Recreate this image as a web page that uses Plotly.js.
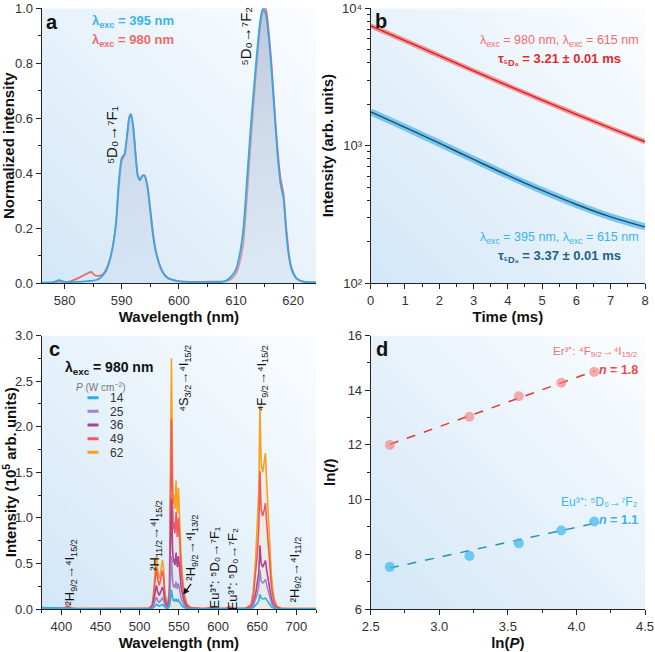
<!DOCTYPE html>
<html><head><meta charset="utf-8">
<script src="https://cdn.plot.ly/plotly-3.0.1.min.js"></script>
<style>html,body{margin:0;padding:0;background:#fff}#chart{width:655px;height:652px}</style>
</head><body><div id="chart"></div>
<script>
// ---------- Panel a : normalized emission spectra ----------
const aWavelength = [576,578,579,580,581,582,583,584,584.7,585.3,586,586.7,587.3,588,588.5,589,589.5,590,590.5,591,591.3,591.6,592,592.4,592.8,593.2,593.6,594,594.5,595,595.5,596,597,598,600,603,606,608,609,610,610.7,611.3,612,612.7,613.5,614.2,614.7,615.2,615.7,616.2,616.8,617.3,617.8,618.3,618.8,619.3,619.8,620.5,621.2,622,624];
const aExc395 = [0.001,0.003,0.01,0.004,0.003,0.004,0.005,0.007,0.008,0.01,0.015,0.028,0.045,0.09,0.14,0.22,0.37,0.455,0.47,0.55,0.6,0.615,0.57,0.47,0.39,0.375,0.39,0.39,0.35,0.26,0.17,0.11,0.045,0.018,0.006,0.003,0.003,0.006,0.02,0.05,0.11,0.2,0.4,0.6,0.8,0.95,1.0,0.98,0.9,0.78,0.6,0.46,0.36,0.31,0.18,0.09,0.045,0.018,0.008,0.004,0.002];
const aExc980 = [0.0,0.0,0.004,0.001,0.006,0.014,0.024,0.035,0.04,0.028,0.026,0.032,0.05,0.09,0.14,0.21,0.35,0.445,0.465,0.545,0.6,0.615,0.575,0.48,0.395,0.375,0.39,0.392,0.355,0.27,0.18,0.115,0.048,0.02,0.007,0.004,0.005,0.006,0.012,0.035,0.08,0.15,0.34,0.55,0.77,0.93,0.99,1.0,0.92,0.8,0.62,0.48,0.38,0.325,0.2,0.1,0.05,0.02,0.009,0.004,0.002];

// ---------- Panel b : decay curves ----------
const bTime = [0,1,2,3,4,5,6,7,8];
const bExc980 = [7447,5821,4519,3508,2735,2143,1690,1340,1067];
const bExc395 = [1762,1358,1042,794,608,472,373,303,256];
const bTickVals = [100,1000,10000];
const bTickText = ['10²','10³','10⁴'];
const bMinorMantissas = [2,3,4,5,6,7,8,9];

// ---------- Panel c : upconversion spectra ----------
const cWavelength = [375,395,403,406,408,410,413,420,500,512,516,518,520,521.5,523,525,527,529,530.5,532,534,536,538,539.5,540.5,542,543,544,545,546.5,548,549.5,551,553,555,557,560,565,580,588,592,596,610,615,620,635,642,645,648,650,652,653.5,655,657,659,660.5,662,664,666,668,670,672,675,680,690,725];
const cPowers = [14,25,36,49,62];
const cP14 = [0.016,0.01,0.006,0.005,0.006,0.005,0.004,0.003, 0.003,0.003,0.006,0.02,0.042,0.052,0.04,0.032,0.04,0.048,0.04,0.02,0.008,0.008,0.03, 0.12,0.21,0.13,0.09,0.1,0.09,0.11,0.085,0.1,0.07,0.045,0.028,0.015,0.006,0.003, 0.003,0.003,0.003,0.003,0.003,0.003,0.003,0.003, 0.005,0.015,0.04,0.06,0.09,0.16,0.12,0.11,0.115,0.12,0.1,0.07,0.045,0.026,0.014,0.007,0.003,0.003,0.003,0.003];
const cP25 = [0.008,0.004,0.004,0.007,0.01,0.008,0.004,0.003, 0.003,0.003,0.012,0.045,0.1,0.13,0.093,0.073,0.093,0.12,0.1,0.045,0.018,0.014,0.053, 0.3,0.58,0.32,0.24,0.27,0.23,0.3,0.22,0.28,0.19,0.115,0.07,0.036,0.013,0.004, 0.003,0.003,0.005,0.003,0.003,0.005,0.003,0.003, 0.01,0.038,0.105,0.165,0.25,0.43,0.31,0.285,0.305,0.325,0.265,0.19,0.125,0.072,0.038,0.019,0.006,0.003,0.003,0.003];
const cP36 = [0.008,0.005,0.005,0.012,0.018,0.014,0.005,0.003, 0.003,0.004,0.023,0.09,0.2,0.26,0.19,0.15,0.19,0.24,0.2,0.09,0.036,0.027,0.11, 0.62,1.21,0.66,0.51,0.55,0.48,0.62,0.46,0.58,0.4,0.24,0.145,0.075,0.026,0.007, 0.003,0.004,0.009,0.003,0.003,0.01,0.003,0.004, 0.016,0.062,0.17,0.27,0.4,0.7,0.5,0.46,0.5,0.53,0.43,0.31,0.2,0.12,0.062,0.031,0.01,0.004,0.003,0.003];
const cP49 = [0.01,0.007,0.008,0.02,0.03,0.022,0.008,0.004, 0.004,0.006,0.04,0.15,0.35,0.45,0.33,0.26,0.33,0.42,0.35,0.15,0.06,0.045,0.19, 1.05,2.08,1.13,0.87,0.95,0.83,1.06,0.79,1.0,0.68,0.42,0.25,0.13,0.045,0.012, 0.004,0.006,0.015,0.005,0.005,0.02,0.005,0.006, 0.034,0.14,0.37,0.59,0.88,1.51,1.09,1.02,1.09,1.16,0.95,0.68,0.44,0.26,0.14,0.07,0.02,0.007,0.004,0.004];
const cP62 = [0.012,0.008,0.01,0.025,0.04,0.03,0.01,0.005, 0.005,0.008,0.05,0.2,0.45,0.58,0.42,0.33,0.42,0.535,0.45,0.2,0.08,0.06,0.25, 1.4,2.75,1.5,1.15,1.25,1.1,1.41,1.05,1.33,0.9,0.55,0.33,0.17,0.06,0.015, 0.005,0.008,0.02,0.006,0.006,0.025,0.006,0.008, 0.05,0.2,0.55,0.87,1.3,2.23,1.6,1.5,1.6,1.71,1.4,1.0,0.65,0.38,0.2,0.1,0.03,0.01,0.006,0.005];
const cSeries = [cP14,cP25,cP36,cP49,cP62];
const cColors = ['#29aee8','#9a86cc','#b0428f','#f05a5f','#f8a11c'];

// ---------- Panel d : power dependence ----------
const dLnP = [2.64,3.22,3.58,3.89,4.13];
const dEr = [12.0,13.03,13.78,14.27,14.67];
const dEu = [7.54,7.94,8.4,8.87,9.2];
const dFitLnP = [2.64,4.13];
const dErFit = [12.02,14.70];
const dEuFit = [7.5,9.13];

const FONT = 'Liberation Sans, Arial, sans-serif';
const traces = [];

// a
traces.push({x:aWavelength,y:aExc980,xaxis:'x',yaxis:'y',mode:'lines',line:{color:'#f06a6a',width:1.8,shape:'spline',smoothing:0.6},hoverinfo:'skip'});
traces.push({x:aWavelength,y:aExc395,xaxis:'x',yaxis:'y',mode:'lines',line:{color:'#38a8e2',width:1.8,shape:'spline',smoothing:0.6},
  fill:'tozeroy',fillgradient:{type:'vertical',colorscale:[[0,'rgba(205,218,236,0.35)'],[1,'rgba(150,165,198,0.6)']]},hoverinfo:'skip'});

// b
traces.push({x:bTime,y:bExc980,xaxis:'x2',yaxis:'y2',mode:'lines',line:{color:'rgba(244,90,90,0.6)',width:5,shape:'spline'},hoverinfo:'skip'});
traces.push({x:bTime,y:bExc395,xaxis:'x2',yaxis:'y2',mode:'lines',line:{color:'rgba(60,175,235,0.65)',width:7,shape:'spline'},hoverinfo:'skip'});
traces.push({x:bTime,y:bExc980,xaxis:'x2',yaxis:'y2',mode:'lines',line:{color:'#d81f1f',width:1.4,shape:'spline'},hoverinfo:'skip'});
traces.push({x:bTime,y:bExc395,xaxis:'x2',yaxis:'y2',mode:'lines',line:{color:'#1d4f6e',width:1.4,shape:'spline'},hoverinfo:'skip'});

// c (draw highest power first)
for (let i = cPowers.length-1; i >= 0; i--) {
  const tr = {x:cWavelength,y:cSeries[i],xaxis:'x3',yaxis:'y3',mode:'lines',line:{color:cColors[i],width:1.6},hoverinfo:'skip'};
  if (i === cPowers.length-1) { tr.fill='tozeroy'; tr.fillcolor='rgba(250,214,160,0.22)'; }
  traces.push(tr);
}
// c legend keys (short line samples on a hidden helper axis inside panel c)
cPowers.forEach((p,i) => {
  traces.push({x:[0,1], y:[cPowers.length-1-i, cPowers.length-1-i], xaxis:'x5', yaxis:'y5', mode:'lines', line:{color:cColors[i], width:3}, hoverinfo:'skip'});
});

// d
traces.push({x:dFitLnP,y:dErFit,xaxis:'x4',yaxis:'y4',mode:'lines',line:{color:'#e83535',width:1.5,dash:'dash'},hoverinfo:'skip'});
traces.push({x:dFitLnP,y:dEuFit,xaxis:'x4',yaxis:'y4',mode:'lines',line:{color:'#2a8fb8',width:1.5,dash:'dash'},hoverinfo:'skip'});
traces.push({x:dLnP,y:dEr,xaxis:'x4',yaxis:'y4',mode:'markers',marker:{size:10,color:'rgba(242,120,120,0.6)'},hoverinfo:'skip'});
traces.push({x:dLnP,y:dEu,xaxis:'x4',yaxis:'y4',mode:'markers',marker:{size:10,color:'rgba(70,185,240,0.75)'},hoverinfo:'skip'});

function axis(extra) {
  return Object.assign({
    showline:true, linecolor:'#222', linewidth:1, mirror:false,
    ticks:'outside', ticklen:5, tickwidth:1, tickcolor:'#222',
    showgrid:false, zeroline:false, fixedrange:true,
    tickfont:{family:FONT,size:13,color:'#333'}
  }, extra);
}
function mnr(d) { return {ticks:'outside',ticklen:3,tickwidth:1,dtick:d,tickcolor:'#222',showgrid:false}; }
function ttl(text, standoff) {
  return {text:text, standoff:standoff, font:{family:FONT,size:15,color:'#111',weight:'bold'}};
}
const bMinorVals = [];
[100,1000].forEach(dec => bMinorMantissas.forEach(m => bMinorVals.push(m*dec)));

const XL = [41.7/655, 316/655], XR = [370.7/655, 645/655];
const YT = [1-283/652, 1-8.3/652], YB = [1-609/652, 1-335.5/652];
const LEG_LINE_H = 13.65, LEG_MID = 425;

const layout = {
  width:655, height:652, margin:{l:0,r:0,t:0,b:0},
  paper_bgcolor:'#ffffff', plot_bgcolor:'rgba(0,0,0,0)', showlegend:false,
  font:{family:FONT,color:'#222'},
  xaxis: axis({domain:XL, anchor:'y', range:[576,624], dtick:10, tick0:0, minor:mnr(5), title:ttl('Wavelength (nm)',4)}),
  yaxis: axis({domain:YT, anchor:'x', range:[0,1.0001], dtick:0.2, tickformat:'.1f', minor:mnr(0.1), title:ttl('Normalized intensity',6)}),
  xaxis2: axis({domain:XR, anchor:'y2', range:[0,8], dtick:1, minor:mnr(0.5), title:ttl('Time (ms)',4)}),
  yaxis2: axis({domain:YT, anchor:'x2', type:'log', range:[2,4.0001], tickvals:bTickVals, ticktext:bTickText,
    minor:{ticks:'outside',ticklen:3,tickwidth:1,tickcolor:'#222',tickmode:'array',tickvals:bMinorVals,showgrid:false}, title:ttl('Intensity (arb. units)',4)}),
  xaxis3: axis({domain:XL, anchor:'y3', range:[375,725], dtick:50, tick0:0, minor:mnr(25), title:ttl('Wavelength (nm)',4)}),
  yaxis3: axis({domain:YB, anchor:'x3', range:[0,3.0001], dtick:0.5, tickformat:'.1f', minor:mnr(0.25), title:ttl('Intensity (10<sup>5</sup> arb. units)',6)}),
  xaxis4: axis({domain:XR, anchor:'y4', range:[2.5,4.5], dtick:0.5, tickformat:'.1f', minor:mnr(0.25), title:ttl('ln(<i>P</i>)',4)}),
  yaxis4: axis({domain:YB, anchor:'x4', range:[6,16.0001], dtick:2, minor:mnr(1), title:ttl('ln(<i>I</i>)',8)}),
  xaxis5: {domain:[87.3/655, 98.7/655], anchor:'y5', range:[0,1], visible:false, fixedrange:true},
  yaxis5: {domain:[1-(LEG_MID+2.5*LEG_LINE_H)/652, 1-(LEG_MID-2.5*LEG_LINE_H)/652], anchor:'x5', range:[-0.5,4.5], visible:false, fixedrange:true},
  annotations:[], images:[]
};

// background gradients
const bgSvg = "<svg xmlns='http://www.w3.org/2000/svg' width='200' height='200' viewBox='0 0 200 200' preserveAspectRatio='none'><defs><linearGradient id='g' x1='0' y1='1' x2='1' y2='0'><stop offset='0' stop-color='#d2e7f7'/><stop offset='0.55' stop-color='#e9f3fb'/><stop offset='1' stop-color='#fbfdff'/></linearGradient></defs><rect width='200' height='200' fill='url(#g)'/></svg>";
const bgUri = 'data:image/svg+xml;charset=utf-8,' + encodeURIComponent(bgSvg);
[['x','y'],['x2','y2'],['x3','y3'],['x4','y4']].forEach(p => {
  layout.images.push({source:bgUri, xref:p[0]+' domain', yref:p[1]+' domain', x:0, y:1, sizex:1, sizey:1, sizing:'stretch', xanchor:'left', yanchor:'top', layer:'below'});
});

function ann(o) {
  return Object.assign({showarrow:false, xanchor:'center', yanchor:'middle', font:{family:FONT,size:13,color:'#111'}}, o);
}
const A = layout.annotations;
// panel letters
[['a','x','y'],['b','x2','y2'],['c','x3','y3'],['d','x4','y4']].forEach((p,i) => {
  A.push(ann({text:'<b>'+p[0]+'</b>', xref:p[1]+' domain', yref:p[2]+' domain', x:[0.036,0.037,0.045,0.041][i], y:[0.95,0.952,0.95,0.95][i], font:{family:FONT,size:20,color:'#111'}}));
});
// panel a
A.push(ann({text:'<b>λ<sub>exc</sub> = 395 nm</b>', xref:'x domain', yref:'y domain', x:0.176, y:0.951, xanchor:'left', font:{family:FONT,size:13,color:'#3bb3ec'}}));
A.push(ann({text:'<b>λ<sub>exc</sub> = 980 nm</b>', xref:'x domain', yref:'y domain', x:0.176, y:0.882, xanchor:'left', font:{family:FONT,size:13,color:'#f06a6a'}}));
A.push(ann({text:'⁵D₀→⁷F₁', xref:'x', yref:'y', x:588.2, y:0.54, textangle:-90, font:{family:FONT,size:15,color:'#111'}}));
A.push(ann({text:'⁵D₀→⁷F₂', xref:'x', yref:'y', x:611.7, y:0.9, textangle:-90, font:{family:FONT,size:15,color:'#111'}}));
// panel b
A.push(ann({text:'λ<sub>exc</sub> = 980 nm, λ<sub>exc</sub> = 615 nm', xref:'x2 domain', yref:'y2 domain', x:0.688, y:0.882, font:{family:FONT,size:12.5,color:'#f26d6d'}}));
A.push(ann({text:'<b>τ<sub>⁵D₀</sub> = 3.21 ± 0.01 ms</b>', xref:'x2 domain', yref:'y2 domain', x:0.688, y:0.812, font:{family:FONT,size:13,color:'#e02a2a'}}));
A.push(ann({text:'λ<sub>exc</sub> = 395 nm, λ<sub>exc</sub> = 615 nm', xref:'x2 domain', yref:'y2 domain', x:0.688, y:0.163, font:{family:FONT,size:12.5,color:'#3bb3ec'}}));
A.push(ann({text:'<b>τ<sub>⁵D₀</sub> = 3.37 ± 0.01 ms</b>', xref:'x2 domain', yref:'y2 domain', x:0.688, y:0.095, font:{family:FONT,size:13,color:'#1f5f86'}}));
// panel c header + legend text
A.push(ann({text:'<b>λ<sub>exc</sub> = 980 nm</b>', xref:'x3 domain', yref:'y3 domain', x:0.079, y:0.881, xanchor:'left', font:{family:FONT,size:14,color:'#111'}}));
A.push(ann({text:'<i>P</i> (W cm<sup>−2</sup>)', xref:'x3 domain', yref:'y3 domain', x:0.118, y:0.813, xanchor:'left', font:{family:FONT,size:10,color:'#777'}}));
const legendText = cPowers.map(p => '<span style="font-size:12px">' + p + '</span>').join('<br>');
A.push(ann({text:legendText, xref:'paper', yref:'paper', x:107.5/655, y:1-LEG_MID/652, xanchor:'left', align:'left', font:{family:FONT,size:LEG_LINE_H/1.3,color:'#333'}}));
// panel c transition labels
const cLabels = [
  ['²H<sub>9/2</sub>→⁴I<sub>15/2</sub>', 412.3, 0.40],
  ['²H<sub>11/2</sub>→⁴I<sub>15/2</sub>', 520.3, 0.81],
  ['⁴S<sub>3/2</sub>→⁴I<sub>15/2</sub>', 557, 2.53],
  ['²H<sub>9/2</sub>→⁴I<sub>13/2</sub>', 566.5, 0.67],
  ['Eu³⁺: ⁵D₀→⁷F₁', 595.3, 0.46],
  ['Eu³⁺: ⁵D₀→⁷F₂', 618.5, 0.43],
  ['⁴F<sub>9/2</sub>→⁴I<sub>15/2</sub>', 656, 2.53],
  ['²H<sub>9/2</sub>→⁴I<sub>11/2</sub>', 698.9, 0.43]
];
cLabels.forEach(l => A.push(ann({text:l[0], xref:'x3', yref:'y3', x:l[1], y:l[2], textangle:-90, font:{family:FONT,size:13,color:'#111'}})));
A.push({text:'', xref:'x3', yref:'y3', x:555.6, y:0.16, ax:9, ay:-12, showarrow:true, arrowhead:2, arrowsize:1, arrowwidth:1.2, arrowcolor:'#111'});
// panel d
A.push(ann({text:'Er³⁺: ⁴F<sub>9/2</sub>→⁴I<sub>15/2</sub>', xref:'x4 domain', yref:'y4 domain', x:0.982, y:0.939, xanchor:'right', font:{family:FONT,size:11.5,color:'#f07070'}}));
A.push(ann({text:'<b><i>n</i> = 1.8</b>', xref:'x4 domain', yref:'y4 domain', x:0.982, y:0.873, xanchor:'right', font:{family:FONT,size:12.5,color:'#e84a4a'}}));
A.push(ann({text:'Eu³⁺: ⁵D₀→⁷F₂', xref:'x4 domain', yref:'y4 domain', x:0.982, y:0.39, xanchor:'right', font:{family:FONT,size:12,color:'#3bb3ec'}}));
A.push(ann({text:'<b><i>n</i> = 1.1</b>', xref:'x4 domain', yref:'y4 domain', x:0.982, y:0.324, xanchor:'right', font:{family:FONT,size:12.5,color:'#3bb3ec'}}));

Plotly.newPlot('chart', traces, layout, {staticPlot:true, displayModeBar:false});
</script></body></html>
